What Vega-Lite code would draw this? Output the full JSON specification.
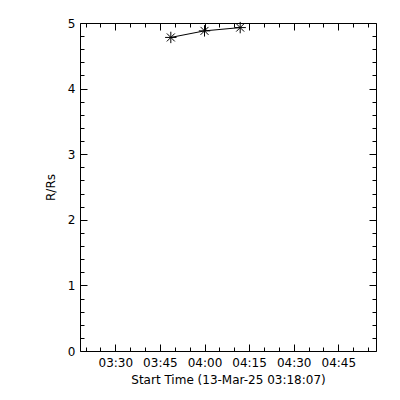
{
  "$schema": "https://vega.github.io/schema/vega-lite/v6.json",
  "width": 296,
  "height": 328,
  "autosize": {"type": "none"},
  "padding": {"left": 80, "top": 23, "right": 24, "bottom": 49},
  "background": "white",
  "data": {"values": [
    {"t": "2025-03-13T03:48:40Z", "r": 4.78},
    {"t": "2025-03-13T04:00:00Z", "r": 4.88},
    {"t": "2025-03-13T04:12:00Z", "r": 4.93}
  ]},
  "resolve": {"axis": {"x": "independent", "y": "independent"}},
  "layer": [
    {
      "mark": {"type": "line", "color": "black", "strokeWidth": 1},
      "encoding": {
        "x": {"field": "t", "type": "temporal",
          "scale": {"type": "utc", "domain": [
            {"year": 2025, "month": 3, "date": 13, "hours": 3, "minutes": 18, "seconds": 7, "utc": true},
            {"year": 2025, "month": 3, "date": 13, "hours": 4, "minutes": 57, "seconds": 41, "utc": true}]},
          "axis": {"orient": "bottom", "title": "Start Time (13-Mar-25 03:18:07)", "labelExpr": "utcFormat(datum.value, '%H:%M')",
            "tickSize": -7, "labelPadding": 13, "titlePadding": 6,
            "values": [
              {"year": 2025, "month": 3, "date": 13, "hours": 3, "minutes": 30, "utc": true},
              {"year": 2025, "month": 3, "date": 13, "hours": 3, "minutes": 45, "utc": true},
              {"year": 2025, "month": 3, "date": 13, "hours": 4, "minutes": 0, "utc": true},
              {"year": 2025, "month": 3, "date": 13, "hours": 4, "minutes": 15, "utc": true},
              {"year": 2025, "month": 3, "date": 13, "hours": 4, "minutes": 30, "utc": true},
              {"year": 2025, "month": 3, "date": 13, "hours": 4, "minutes": 45, "utc": true}]}},
        "y": {"field": "r", "type": "quantitative", "scale": {"domain": [0, 5], "nice": false, "zero": false},
          "axis": {"orient": "left", "title": "R/Rs", "values": [0, 1, 2, 3, 4, 5], "format": "d",
            "tickSize": -7, "labelPadding": 12, "titlePadding": 10}}
      }
    },
    {
      "mark": {"type": "point", "shape": "M-1,0L1,0M0,-1L0,1M-0.7,-0.7L0.7,0.7M-0.7,0.7L0.7,-0.7", "filled": false, "stroke": "black", "strokeWidth": 1, "size": 130, "opacity": 1},
      "encoding": {
        "x": {"field": "t", "type": "temporal",
          "axis": {"orient": "bottom", "title": null, "labels": false, "tickSize": -4,
            "values": [
              {"year": 2025, "month": 3, "date": 13, "hours": 3, "minutes": 20, "utc": true},
              {"year": 2025, "month": 3, "date": 13, "hours": 3, "minutes": 25, "utc": true},
              {"year": 2025, "month": 3, "date": 13, "hours": 3, "minutes": 35, "utc": true},
              {"year": 2025, "month": 3, "date": 13, "hours": 3, "minutes": 40, "utc": true},
              {"year": 2025, "month": 3, "date": 13, "hours": 3, "minutes": 50, "utc": true},
              {"year": 2025, "month": 3, "date": 13, "hours": 3, "minutes": 55, "utc": true},
              {"year": 2025, "month": 3, "date": 13, "hours": 4, "minutes": 5, "utc": true},
              {"year": 2025, "month": 3, "date": 13, "hours": 4, "minutes": 10, "utc": true},
              {"year": 2025, "month": 3, "date": 13, "hours": 4, "minutes": 20, "utc": true},
              {"year": 2025, "month": 3, "date": 13, "hours": 4, "minutes": 25, "utc": true},
              {"year": 2025, "month": 3, "date": 13, "hours": 4, "minutes": 35, "utc": true},
              {"year": 2025, "month": 3, "date": 13, "hours": 4, "minutes": 40, "utc": true},
              {"year": 2025, "month": 3, "date": 13, "hours": 4, "minutes": 50, "utc": true},
              {"year": 2025, "month": 3, "date": 13, "hours": 4, "minutes": 55, "utc": true}]}},
        "y": {"field": "r", "type": "quantitative",
          "axis": {"orient": "left", "title": null, "labels": false, "tickSize": -4,
            "values": [0.2,0.4,0.6,0.8,1.2,1.4,1.6,1.8,2.2,2.4,2.6,2.8,3.2,3.4,3.6,3.8,4.2,4.4,4.6,4.8]}}
      }
    },
    {
      "mark": {"type": "point", "opacity": 0},
      "encoding": {
        "x": {"field": "t", "type": "temporal",
          "axis": {"orient": "top", "title": null, "labels": false, "tickSize": -7,
            "values": [
              {"year": 2025, "month": 3, "date": 13, "hours": 3, "minutes": 30, "utc": true},
              {"year": 2025, "month": 3, "date": 13, "hours": 3, "minutes": 45, "utc": true},
              {"year": 2025, "month": 3, "date": 13, "hours": 4, "minutes": 0, "utc": true},
              {"year": 2025, "month": 3, "date": 13, "hours": 4, "minutes": 15, "utc": true},
              {"year": 2025, "month": 3, "date": 13, "hours": 4, "minutes": 30, "utc": true},
              {"year": 2025, "month": 3, "date": 13, "hours": 4, "minutes": 45, "utc": true}]}},
        "y": {"field": "r", "type": "quantitative",
          "axis": {"orient": "right", "title": null, "labels": false, "tickSize": -7, "values": [0, 1, 2, 3, 4, 5]}}
      }
    },
    {
      "mark": {"type": "point", "opacity": 0},
      "encoding": {
        "x": {"field": "t", "type": "temporal",
          "axis": {"orient": "top", "title": null, "labels": false, "tickSize": -4,
            "values": [
              {"year": 2025, "month": 3, "date": 13, "hours": 3, "minutes": 20, "utc": true},
              {"year": 2025, "month": 3, "date": 13, "hours": 3, "minutes": 25, "utc": true},
              {"year": 2025, "month": 3, "date": 13, "hours": 3, "minutes": 35, "utc": true},
              {"year": 2025, "month": 3, "date": 13, "hours": 3, "minutes": 40, "utc": true},
              {"year": 2025, "month": 3, "date": 13, "hours": 3, "minutes": 50, "utc": true},
              {"year": 2025, "month": 3, "date": 13, "hours": 3, "minutes": 55, "utc": true},
              {"year": 2025, "month": 3, "date": 13, "hours": 4, "minutes": 5, "utc": true},
              {"year": 2025, "month": 3, "date": 13, "hours": 4, "minutes": 10, "utc": true},
              {"year": 2025, "month": 3, "date": 13, "hours": 4, "minutes": 20, "utc": true},
              {"year": 2025, "month": 3, "date": 13, "hours": 4, "minutes": 25, "utc": true},
              {"year": 2025, "month": 3, "date": 13, "hours": 4, "minutes": 35, "utc": true},
              {"year": 2025, "month": 3, "date": 13, "hours": 4, "minutes": 40, "utc": true},
              {"year": 2025, "month": 3, "date": 13, "hours": 4, "minutes": 50, "utc": true},
              {"year": 2025, "month": 3, "date": 13, "hours": 4, "minutes": 55, "utc": true}]}},
        "y": {"field": "r", "type": "quantitative",
          "axis": {"orient": "right", "title": null, "labels": false, "tickSize": -4,
            "values": [0.2,0.4,0.6,0.8,1.2,1.4,1.6,1.8,2.2,2.4,2.6,2.8,3.2,3.4,3.6,3.8,4.2,4.4,4.6,4.8]}}
      }
    }
  ],
  "config": {
    "view": {"stroke": "black", "strokeWidth": 1},
    "axis": {"domain": false, "grid": false, "tickColor": "black", "tickWidth": 1,
      "labelColor": "black", "titleColor": "black", "labelFont": "DejaVu Sans", "titleFont": "DejaVu Sans",
      "labelFontSize": 12, "titleFontSize": 12, "titleFontWeight": "normal"}
  }
}
